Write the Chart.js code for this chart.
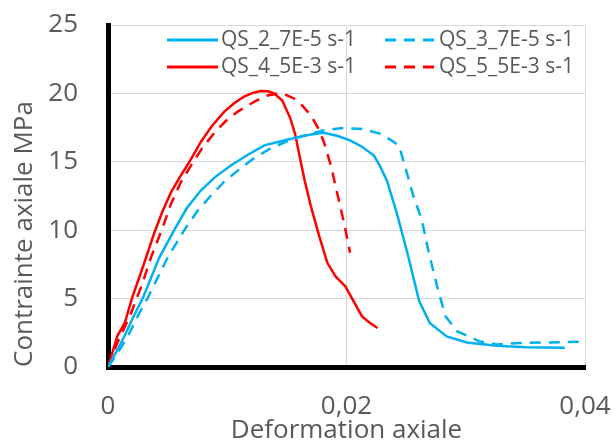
<!DOCTYPE html>
<html>
<head>
<meta charset="utf-8">
<script src="https://cdn.jsdelivr.net/npm/chart.js@4"></script>
<style>
  html, body { margin: 0; padding: 0; background: #fff; }
  #wrap { width: 615px; height: 444px; }
</style>
</head>
<body>
<div id="wrap"><canvas id="graphic" width="615" height="444"></canvas></div>
<script>
// series labels
const seriesNames = ['QS_2_7E-5 s-1', 'QS_3_7E-5 s-1', 'QS_4_5E-3 s-1', 'QS_5_5E-3 s-1'];

// QS_2 (blue, solid)
const qs2Strain = [0, 0.0007, 0.00136, 0.0022, 0.0029, 0.0043, 0.00555, 0.0066, 0.00778, 0.009, 0.0103, 0.0117, 0.0131, 0.0145, 0.0159, 0.017, 0.0181, 0.0192, 0.0203, 0.0213, 0.0223, 0.0228, 0.0234, 0.0242, 0.0251, 0.0261, 0.027, 0.0284, 0.0301, 0.0326, 0.035, 0.0383];
const qs2Stress = [0, 1.1, 2.23, 3.8, 5.0, 8.0, 10.0, 11.6, 12.9, 13.9, 14.73, 15.5, 16.2, 16.5, 16.8, 17.0, 17.13, 16.9, 16.57, 16.1, 15.46, 14.7, 13.6, 11.3, 8.36, 4.8, 3.2, 2.23, 1.79, 1.55, 1.45, 1.4];

// QS_3 (blue, dashed)
const qs3Strain = [0, 0.0008, 0.00165, 0.0026, 0.0033, 0.005, 0.00639, 0.0075, 0.0086, 0.0098, 0.0111, 0.0123, 0.0136, 0.015, 0.0164, 0.0181, 0.0198, 0.0213, 0.0228, 0.0237, 0.0244, 0.0248, 0.0256, 0.0263, 0.0269, 0.0276, 0.0283, 0.0293, 0.0312, 0.0326, 0.0345, 0.037, 0.04];
const qs3Stress = [0, 1.0, 2.23, 3.9, 5.0, 8.0, 10.0, 11.4, 12.5, 13.6, 14.5, 15.3, 15.96, 16.5, 16.9, 17.3, 17.47, 17.4, 17.06, 16.6, 16.2, 15.0, 12.5, 10.8, 8.36, 5.9, 3.7, 2.6, 1.86, 1.65, 1.75, 1.8, 1.86];

// QS_4 (red, solid)
const qs4Strain = [0, 0.0008, 0.0014, 0.002, 0.00304, 0.00388, 0.00458, 0.0053, 0.00611, 0.0069, 0.00778, 0.0087, 0.00973, 0.0106, 0.0114, 0.0122, 0.0128, 0.0134, 0.0139, 0.0146, 0.0153, 0.0157, 0.016, 0.0165, 0.017, 0.0177, 0.0184, 0.0191, 0.0199, 0.0206, 0.0213, 0.022, 0.0226];
const qs4Stress = [0, 2.3, 3.2, 5.0, 7.6, 9.8, 11.4, 12.8, 14.0, 15.1, 16.45, 17.6, 18.65, 19.3, 19.76, 20.05, 20.17, 20.15, 20.0, 19.5, 18.16, 17.0, 15.7, 13.6, 11.8, 9.6, 7.6, 6.6, 5.9, 4.8, 3.7, 3.2, 2.85];

// QS_5 (red, dashed)
const qs5Strain = [0, 0.0008, 0.00192, 0.0028, 0.0036, 0.0045, 0.00527, 0.0061, 0.0068, 0.0079, 0.0089, 0.0099, 0.01085, 0.0117, 0.0125, 0.0134, 0.0142, 0.0149, 0.0156, 0.0163, 0.017, 0.0176, 0.0181, 0.0187, 0.0192, 0.0198, 0.0203];
const qs5Stress = [0, 1.8, 3.9, 5.9, 8.0, 10.0, 11.9, 13.5, 14.5, 16.0, 17.1, 18.0, 18.65, 19.1, 19.5, 19.85, 20.0, 19.9, 19.63, 19.1, 18.4, 17.5, 16.45, 14.7, 12.77, 10.5, 8.36];

const yTicks = [0, 5, 10, 15, 20, 25];
const xTicks = [0, 0.02, 0.04];

const blue = '#00B0F0';
const red = '#FF0000';
const grey = '#595959';

const pts = (xs, ys) => xs.map((x, i) => ({ x: x, y: ys[i] }));

function makeSet(name, xs, ys, color, dashed) {
    return {
        label: name,
        data: pts(xs, ys),
        showLine: true,
        borderColor: color,
        backgroundColor: color,
        borderWidth: 2.5,
        borderDash: dashed ? [11, 8] : [],
        pointRadius: 0,
        tension: 0,
        fill: false
    };
}

// legend drawn inside the plot, two columns like the original
const insideLegend = {
    id: 'insideLegend',
    afterDraw(chart) {
        const ctx = chart.ctx;
        const cols = [167, 385];
        const rows = [40, 67];
        ctx.save();
        ctx.font = '21px "Open Sans"';
        ctx.textBaseline = 'middle';
        ctx.fillStyle = grey;
        chart.data.datasets.forEach((ds, i) => {
            const x = cols[i % 2];
            const y = rows[Math.floor(i / 2)];
            ctx.beginPath();
            ctx.strokeStyle = ds.borderColor;
            ctx.lineWidth = 3;
            ctx.setLineDash(ds.borderDash);
            ctx.moveTo(x, y);
            ctx.lineTo(x + 51, y);
            ctx.stroke();
            ctx.setLineDash([]);
            ctx.fillText(ds.label, x + 54, y);
        });
        ctx.restore();
    }
};

const ctx = document.getElementById('graphic').getContext('2d');
const myChart = new Chart(ctx, {
    type: 'scatter',
    data: {
        datasets: [
            makeSet(seriesNames[0], qs2Strain, qs2Stress, blue, false),
            makeSet(seriesNames[1], qs3Strain, qs3Stress, blue, true),
            makeSet(seriesNames[2], qs4Strain, qs4Stress, red, false),
            makeSet(seriesNames[3], qs5Strain, qs5Stress, red, true)
        ]
    },
    options: {
        responsive: false,
        animation: false,
        layout: { padding: { left: 0, right: 30, top: 25, bottom: 0 } },
        plugins: {
            legend: { display: false },
            tooltip: { enabled: false }
        },
        scales: {
            x: {
                type: 'linear',
                min: 0,
                max: 0.04,
                afterBuildTicks: (scale) => { scale.ticks = xTicks.map(v => ({ value: v })); },
                afterFit: (scale) => {
                    scale.height = 77;
                    scale.paddingLeft = 0;
                    scale.paddingRight = 0;
                },
                ticks: {
                    padding: 24,
                    color: grey,
                    font: { family: 'Open Sans', size: 26 },
                    callback: (v) => v === 0 ? '0' : v.toFixed(2).replace('.', ',')
                },
                grid: { color: '#D9D9D9', lineWidth: 1, drawTicks: false },
                border: { display: true, color: '#000', width: 5 },
                title: {
                    display: true,
                    text: 'Deformation axiale',
                    color: grey,
                    font: { family: 'Open Sans', size: 26, lineHeight: 1.0 },
                    padding: { top: 0, bottom: 0 }
                }
            },
            y: {
                type: 'linear',
                min: 0,
                max: 25,
                afterBuildTicks: (scale) => { scale.ticks = yTicks.map(v => ({ value: v })); },
                afterFit: (scale) => {
                    scale.width = 108;
                    scale.paddingTop = 0;
                    scale.paddingBottom = 0;
                },
                ticks: {
                    padding: 30,
                    color: grey,
                    font: { family: 'Open Sans', size: 26 }
                },
                grid: { color: '#D9D9D9', lineWidth: 1, drawTicks: false },
                border: { display: true, color: '#000', width: 5 },
                title: {
                    display: true,
                    text: 'Contrainte axiale MPa',
                    align: 'start',
                    color: grey,
                    font: { family: 'Open Sans', size: 26, lineHeight: 1.1 },
                    padding: { top: 10, bottom: 0 }
                }
            }
        }
    },
    plugins: [insideLegend]
});
</script>
</body>
</html>
